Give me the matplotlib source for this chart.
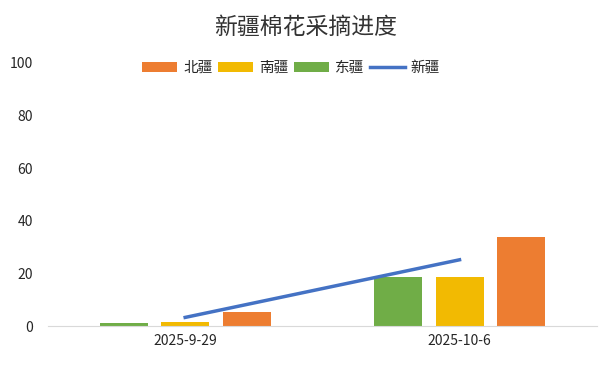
import matplotlib
matplotlib.use('Agg')
import matplotlib.pyplot as plt
import numpy as np

dates = ['2025-9-29', '2025-10-6']
beijiang = [5.3, 33.8]
nanjiang = [1.5, 18.6]
dongjiang = [1.0, 18.6]
xinjiang = [3.3, 25.2]

plt.rcParams['font.family'] = ['Noto Sans CJK SC', 'DejaVu Sans']

fig = plt.figure(figsize=(6.11, 3.91), dpi=100)
ax = fig.add_axes([0.0786, 0.166, 0.898, 0.673])

x = np.arange(len(dates))
w = 0.175
off = 0.224
b_dong = ax.bar(x - off, dongjiang, w, color='#70AD47', zorder=2)
b_nan = ax.bar(x, nanjiang, w, color='#F2BA02', zorder=2)
b_bei = ax.bar(x + off, beijiang, w, color='#ED7D31', zorder=2)
ln, = ax.plot(x, xinjiang, color='#4472C4', lw=2.5, zorder=3)

ax.set_xlim(-0.5, 1.5)
ax.set_ylim(0, 100)
ax.set_yticks([0, 20, 40, 60, 80, 100])
ax.set_xticks(x)
ax.set_xticklabels(dates)
ax.tick_params(axis='both', length=0, labelsize=10, colors='#262626')
ax.tick_params(axis='y', pad=11)
ax.tick_params(axis='x', pad=6)
for s in ['top', 'right', 'left']:
    ax.spines[s].set_visible(False)
ax.spines['bottom'].set_color('#D9D9D9')

ax.legend([b_bei, b_nan, b_dong, ln], ['北疆', '南疆', '东疆', '新疆'],
          loc='center', bbox_to_anchor=(0.443, 0.98), ncol=4, frameon=False,
          fontsize=10.5, handlelength=2.4, handleheight=0.6, columnspacing=0.4,
          handletextpad=0.4, labelcolor='#262626')

fig.text(0.5, 0.93, '新疆棉花采摘进度', ha='center', va='center', fontsize=16.5, color='#333333')

fig.savefig('out.png', dpi=100, facecolor='white')
